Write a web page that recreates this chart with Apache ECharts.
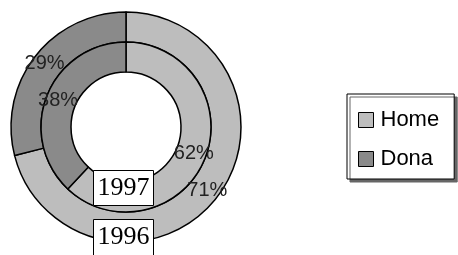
<!DOCTYPE html>
<html>
<head>
<meta charset="utf-8">
<script src="https://cdn.jsdelivr.net/npm/echarts@6/dist/echarts.min.js"></script>
<style>
  html, body { margin: 0; padding: 0; background: #fff; }
  #chart { width: 458px; height: 255px; }
</style>
</head>
<body>
<div id="chart"></div>
<script>
  // values
  var names = ['Home', 'Dona'];
  var colors = ['#bdbdbd', '#8a8a8a'];
  var values1996 = [71, 29];   // outer ring
  var values1997 = [62, 38];   // inner ring

  function toData(vals) {
    var out = [];
    for (var i = 0; i < vals.length; i++) {
      out.push({ name: names[i], value: vals[i], itemStyle: { color: colors[i] } });
    }
    return out;
  }

  var labelStyle = {
    show: true,
    position: 'inside',
    formatter: '{c}%',
    fontFamily: 'Liberation Sans',
    fontSize: 20,
    color: '#222'
  };

  var ringStyle = { borderColor: '#000', borderWidth: 1.5 };

  var chart = echarts.init(document.getElementById('chart'), null, { renderer: 'canvas' });
  var option = {
    animation: false,
    color: colors,
    legend: {
      orient: 'vertical',
      left: 347,
      top: 94,
      data: names,
      icon: 'rect',
      itemWidth: 15,
      itemHeight: 15,
      itemGap: 17,
      padding: [15, 15, 9, 11],
      backgroundColor: '#fff',
      borderColor: '#000',
      borderWidth: 1,
      shadowColor: '#666',
      shadowOffsetX: 3,
      shadowOffsetY: 3,
      shadowBlur: 0,
      itemStyle: { borderColor: '#000', borderWidth: 1 },
      textStyle: { fontFamily: 'Liberation Sans', fontSize: 22, color: '#000', padding: [0, 0, 0, 2] }
    },
    series: [
      {
        name: '1996',
        type: 'pie',
        center: [126, 127],
        radius: [85, 115],
        startAngle: 90,
        clockwise: true,
        label: labelStyle,
        labelLine: { show: false },
        itemStyle: ringStyle,
        emphasis: { disabled: true },
        data: toData(values1996)
      },
      {
        name: '1997',
        type: 'pie',
        center: [126, 127],
        radius: [55, 85],
        startAngle: 90,
        clockwise: true,
        label: labelStyle,
        labelLine: { show: false },
        itemStyle: ringStyle,
        emphasis: { disabled: true },
        data: toData(values1997)
      }
    ],
    graphic: [
      {
        type: 'group', left: 93, top: 170, z: 100,
        children: [
          { type: 'rect', z: 100, shape: { x: 0, y: 0, width: 60, height: 35 },
            style: { fill: '#fff', stroke: '#000', lineWidth: 1 } },
          { type: 'text', z: 101, x: 30, y: 18,
            style: { text: '1997', fontFamily: 'Liberation Serif', fontSize: 26, fill: '#000',
                     align: 'center', verticalAlign: 'middle' } }
        ]
      },
      {
        type: 'group', left: 93, top: 219, z: 100,
        children: [
          { type: 'rect', z: 100, shape: { x: 0, y: 0, width: 60, height: 40 },
            style: { fill: '#fff', stroke: '#000', lineWidth: 1 } },
          { type: 'text', z: 101, x: 30, y: 18,
            style: { text: '1996', fontFamily: 'Liberation Serif', fontSize: 26, fill: '#000',
                     align: 'center', verticalAlign: 'middle' } }
        ]
      }
    ]
  };
  chart.setOption(option);
</script>
</body>
</html>
